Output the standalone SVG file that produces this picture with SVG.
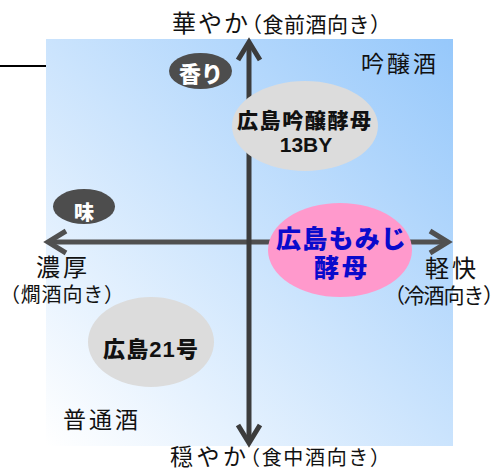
<svg xmlns="http://www.w3.org/2000/svg" width="504" height="472" viewBox="0 0 504 472">
  <defs>
    <linearGradient id="bg" x1="0" y1="1" x2="1" y2="0">
      <stop offset="0" stop-color="#ffffff"/>
      <stop offset="1" stop-color="#96c8fb"/>
    </linearGradient>
  </defs>
  <style>
    .t { font-family: "Noto Sans CJK JP", sans-serif; fill: #111; }
    .b { font-family: "Liberation Sans", "Noto Sans CJK JP", sans-serif; font-weight: 900; fill: #111; }
    .w { font-family: "Noto Sans CJK JP", sans-serif; font-weight: 900; fill: #fff; }
    .blue { font-family: "Noto Sans CJK JP", sans-serif; font-weight: 900; fill: #0a0acc; }
    .ax { fill: none; stroke-width: 5; stroke-linecap: butt; stroke-linejoin: miter; }
    .tag { fill: #4d4d4d; }
    .grey { fill: #dcdcdc; }
  </style>

  <rect x="46" y="39" width="407" height="407" fill="url(#bg)"/>
  <line x1="0" y1="66" x2="46" y2="66" stroke="#000" stroke-width="2"/>

  <g id="connectors">
    <g id="axis-h" stroke="#505050">
      <line class="ax" x1="49" y1="242" x2="447" y2="242"/>
      <polyline class="ax" points="66,231 48,242 66,253"/>
      <polyline class="ax" points="430,231 448,242 430,253"/>
    </g>
    <g id="axis-v" stroke="#3c3c3c">
      <line class="ax" x1="249" y1="43" x2="249" y2="442"/>
      <polyline class="ax" points="238,60 249,42 260,60"/>
      <polyline class="ax" points="238,425 249,443 260,425"/>
    </g>
  </g>

  <g id="label-top">
    <text class="t" x="172" y="32" font-size="24" textLength="76" lengthAdjust="spacing">華やか</text>
    <text class="t" x="241" y="32" font-size="21" textLength="150" lengthAdjust="spacing">（食前酒向き）</text>
  </g>
  <g id="label-bottom">
    <text class="t" x="170" y="465" font-size="23" textLength="76" lengthAdjust="spacing">穏やか</text>
    <text class="t" x="240" y="465" font-size="20" textLength="150" lengthAdjust="spacing">（食中酒向き）</text>
  </g>
  <g id="label-left">
    <text class="t" x="36" y="276" font-size="24" textLength="51" lengthAdjust="spacing">濃厚</text>
    <text class="t" x="0" y="302" font-size="20" textLength="124" lengthAdjust="spacing">（燗酒向き）</text>
  </g>
  <g id="label-right">
    <text class="t" x="425" y="277" font-size="24" textLength="51" lengthAdjust="spacing">軽快</text>
    <text class="t" x="384" y="303" font-size="21" textLength="120" lengthAdjust="spacing">（冷酒向き）</text>
  </g>
  <g id="label-ginjo">
    <text class="t" x="361" y="72" font-size="23" textLength="75" lengthAdjust="spacing">吟醸酒</text>
  </g>
  <g id="label-futsu">
    <text class="t" x="63" y="428" font-size="23" textLength="75" lengthAdjust="spacing">普通酒</text>
  </g>

  <g id="tag-kaori">
    <ellipse class="tag" cx="200.5" cy="71" rx="31.5" ry="18"/>
    <text class="w" x="201" y="82" font-size="22" text-anchor="middle">香り</text>
  </g>
  <g id="tag-aji">
    <ellipse class="tag" cx="84" cy="206.5" rx="31" ry="17.5"/>
    <text class="w" x="84" y="220" font-size="20" text-anchor="middle">味</text>
  </g>

  <g id="node-ginjo-kobo">
    <ellipse class="grey" cx="305" cy="126" rx="73" ry="45"/>
    <text class="b" x="237" y="128" font-size="21" textLength="134" lengthAdjust="spacing">広島吟醸酵母</text>
    <text class="b" x="306" y="152" font-size="21" text-anchor="middle">13BY</text>
  </g>
  <g id="node-momiji">
    <ellipse cx="340" cy="250" rx="72" ry="47" fill="#ff99cc"/>
    <text class="blue" x="276" y="248" font-size="25" textLength="130" lengthAdjust="spacing">広島もみじ</text>
    <text class="blue" x="314" y="277" font-size="25" textLength="53" lengthAdjust="spacing">酵母</text>
  </g>
  <g id="node-21">
    <ellipse class="grey" cx="151" cy="342" rx="63" ry="45"/>
    <text class="b" x="103" y="357" font-size="22" textLength="95" lengthAdjust="spacing">広島21号</text>
  </g>
</svg>
